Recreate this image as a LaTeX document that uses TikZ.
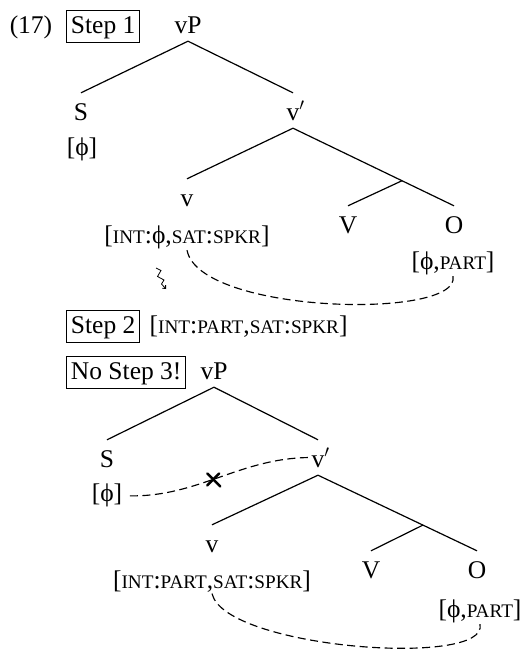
\documentclass[tikz,border=0pt]{standalone}
\usepackage{fontspec}
\setmainfont{Liberation Serif}
\usetikzlibrary{calc,arrows.meta}
\newcommand\smc[1]{{\fontsize{19.2}{20}\selectfont #1}}
\begin{document}
\begin{tikzpicture}[x=1pt,y=-1pt,
  every node/.style={font=\fontsize{25.5}{30}\selectfont},
  lab/.style={anchor=base, inner sep=1, text height=26, text depth=7},
  feat/.style={anchor=base, inner sep=1.5},
  stepbox/.style={draw, line width=0.9, anchor=base west, inner xsep=4.5, inner ysep=4, text height=19, text depth=5},
  branch/.style={line width=1.2},
  agree/.style={line width=1.15, dash pattern=on 8pt off 4.5pt}]
\useasboundingbox (0,0) rectangle (527,651);

% ---------- Step 1 ----------
\node (ex) [anchor=base] at (31,33) {(17)};
\node (s1) [stepbox] at (66,33) {Step 1};
\node (vP1) [lab] at (188,33) {vP};
\node (S1) [lab] at (81,120) {S};
\node (vb1) [lab] at (293,120) {v\rlap{$'$}};
\node (f1S) [feat] at (82,155) {[ϕ]};
\node (v1) [lab] at (187,206) {v};
\node (f1v) [feat] at (187,243) {[\smc{INT}:ϕ,\smc{SAT}:\smc{SPKR}]};
\node (V1) [lab] at (348,233) {V};
\node (O1) [lab] at (454,233) {O};
\node (f1O) [feat] at (453,269) {[ϕ,\smc{PART}]};
\coordinate (j1) at ($(vb1.south)!0.677!(O1.north)$);

\draw[branch] (vP1.south) -- (S1.north);
\draw[branch] (vP1.south) -- (vb1.north);
\draw[branch] (vb1.south) -- (v1.north);
\draw[branch] (vb1.south) -- (O1.north);
\draw[branch] (j1) -- (V1.north);

\draw[agree] (f1v.south) .. controls ($(f1v.south)+(12,64)$) and ($(f1O.south)+(9,44)$) .. (f1O.south);

% squiggly arrow
\coordinate (q0) at (156,268);
\coordinate (q1) at (166,289);
\draw[line width=0.8, -{Straight Barb[length=2.5pt,width=4.5pt]}]
  (q0) -- (161,270.5) -- (157.5,276.5) -- (164,280) -- (161.5,284) -- (q1);

% ---------- Step 2 ----------
\node (s2) [stepbox] at (66,333) {Step 2};
\node (f2) [feat, anchor=base west] at (148,333) {[\smc{INT}:\smc{PART},\smc{SAT}:\smc{SPKR}]};

% ---------- No Step 3 ----------
\node (s3) [stepbox] at (66,379) {No Step 3!};
\node (vP2) [lab] at (214,379) {vP};
\node (S2) [lab] at (107,467) {S};
\node (vb2) [lab] at (318,467) {v\rlap{$'$}};
\node (f2S) [feat] at (107,501) {[ϕ]};
\node (v2) [lab] at (212,552) {v};
\node (f2v) [feat] at (212,588) {[\smc{INT}:\smc{PART},\smc{SAT}:\smc{SPKR}]};
\node (V2) [lab] at (371,578) {V};
\node (O2) [lab] at (477,578) {O};
\node (f2O) [feat] at (480,617) {[ϕ,\smc{PART}]};
\coordinate (j2) at ($(vb2.south)!0.66!(O2.north)$);

\draw[branch] (vP2.south) -- (S2.north);
\draw[branch] (vP2.south) -- (vb2.north);
\draw[branch] (vb2.south) -- (v2.north);
\draw[branch] (vb2.south) -- (O2.north);
\draw[branch] (j2) -- (V2.north);

\coordinate (a0) at ($(f2S.east)+(6,1)$);
\coordinate (a1) at ($(vb2.west)+(1,0)$);
\draw[agree] (a0) .. controls ($(a0)+(69,1)$) and ($(a1)+(-71,0)$) .. (a1) coordinate[pos=0.46] (xm);
\draw[line width=2.5, line cap=round] ($(xm)+(-6,-6)$) -- ($(xm)+(7,7)$);
\draw[line width=2.5, line cap=round] ($(xm)+(-6,6)$) -- ($(xm)+(6,-6)$);

\draw[agree] (f2v.south) .. controls ($(f2v.south)+(13,55)$) and ($(f2O.south)+(10,44)$) .. (f2O.south);
\end{tikzpicture}
\end{document}
